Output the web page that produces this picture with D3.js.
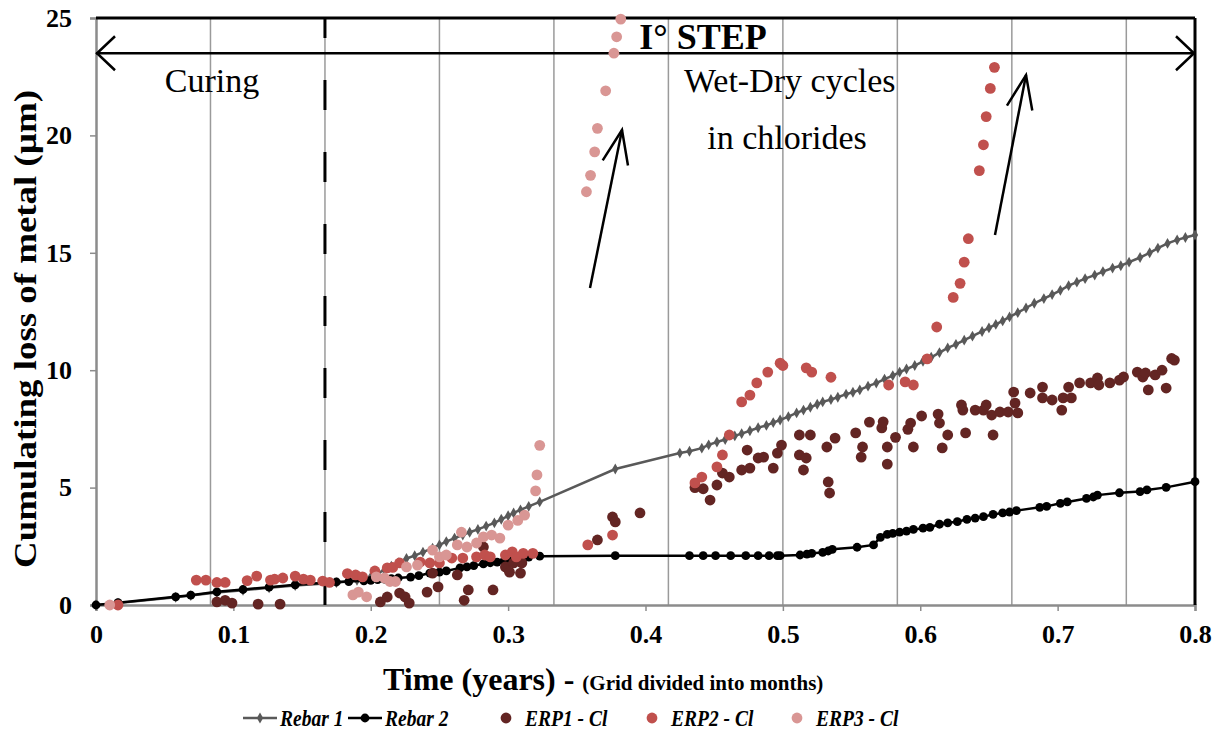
<!DOCTYPE html>
<html><head><meta charset="utf-8">
<script src="https://cdn.jsdelivr.net/npm/d3@7"></script>
<style>body{margin:0;background:#fff}svg{display:block}</style>
</head><body>
<svg id="c" width="1227" height="735"></svg>
<script>
// ---------- DATA ----------
const xTicks = [0,0.1,0.2,0.3,0.4,0.5,0.6,0.7,0.8];
const yTicks = [0,5,10,15,20,25];
const monthGrid = [1/12,2/12,3/12,4/12,5/12,6/12,7/12,8/12,9/12];
const curingEnd = 2/12;
const seriesNames = ["Rebar 1","Rebar 2","ERP1 - Cl","ERP2 - Cl","ERP3 - Cl"];
const seriesColors = ["#595959","#000000","#632523","#c0504d","#d99694"];

const rebar1 = [[0,0],[0.016,0.08],[0.058,0.33],[0.069,0.4],[0.088,0.53],[0.107,0.63],[0.126,0.73],[0.145,0.83],[0.175,0.95],[0.19,1.05],[0.2,1.2],[0.205,1.35],[0.21,1.5],[0.215,1.65],[0.22,1.8],[0.226,1.98],[0.232,2.1],[0.238,2.25],[0.245,2.42],[0.25,2.56],[0.255,2.7],[0.261,2.85],[0.267,2.98],[0.272,3.1],[0.278,3.22],[0.284,3.36],[0.29,3.5],[0.295,3.65],[0.3,3.8],[0.304,3.92],[0.309,4.05],[0.315,4.2],[0.323,4.39],[0.378,5.79],[0.425,6.47],[0.432,6.55],[0.441,6.68],[0.446,6.82],[0.452,6.94],[0.458,7.05],[0.465,7.2],[0.47,7.3],[0.476,7.42],[0.482,7.55],[0.488,7.65],[0.493,7.77],[0.498,7.88],[0.504,8.02],[0.51,8.18],[0.515,8.3],[0.52,8.42],[0.525,8.55],[0.529,8.65],[0.535,8.75],[0.54,8.85],[0.546,8.98],[0.551,9.06],[0.556,9.16],[0.562,9.32],[0.568,9.45],[0.574,9.62],[0.58,9.77],[0.585,9.92],[0.59,10.05],[0.596,10.2],[0.602,10.38],[0.608,10.55],[0.614,10.75],[0.62,10.95],[0.626,11.1],[0.632,11.28],[0.638,11.45],[0.645,11.65],[0.65,11.8],[0.655,11.95],[0.66,12.1],[0.665,12.27],[0.671,12.45],[0.677,12.65],[0.683,12.85],[0.69,13.05],[0.696,13.22],[0.702,13.4],[0.708,13.6],[0.714,13.75],[0.72,13.9],[0.727,14.05],[0.733,14.2],[0.74,14.35],[0.746,14.45],[0.752,14.6],[0.76,14.8],[0.767,15.0],[0.773,15.2],[0.78,15.4],[0.787,15.55],[0.793,15.65],[0.8,15.76]];

const rebar2 = [[0,0],[0.016,0.1],[0.058,0.35],[0.069,0.42],[0.088,0.56],[0.107,0.66],[0.126,0.76],[0.145,0.86],[0.175,0.98],[0.184,1.0],[0.195,1.03],[0.2,1.05],[0.205,1.08],[0.21,1.1],[0.215,1.12],[0.22,1.15],[0.229,1.19],[0.235,1.25],[0.243,1.36],[0.25,1.4],[0.255,1.45],[0.265,1.58],[0.27,1.62],[0.275,1.68],[0.282,1.75],[0.287,1.8],[0.292,1.83],[0.297,1.88],[0.302,1.95],[0.308,2.0],[0.315,2.04],[0.323,2.08],[0.378,2.1],[0.432,2.1],[0.442,2.1],[0.451,2.1],[0.462,2.1],[0.473,2.1],[0.482,2.1],[0.49,2.1],[0.496,2.1],[0.498,2.1],[0.5125,2.13],[0.5175,2.17],[0.521,2.2],[0.529,2.24],[0.533,2.3],[0.536,2.37],[0.554,2.46],[0.566,2.56],[0.571,2.88],[0.576,3.01],[0.58,3.05],[0.585,3.1],[0.59,3.15],[0.595,3.22],[0.602,3.27],[0.607,3.31],[0.614,3.44],[0.62,3.5],[0.627,3.55],[0.634,3.65],[0.64,3.7],[0.646,3.76],[0.653,3.86],[0.66,3.92],[0.665,3.96],[0.67,4.02],[0.687,4.16],[0.692,4.2],[0.702,4.33],[0.707,4.39],[0.721,4.54],[0.726,4.6],[0.729,4.68],[0.745,4.78],[0.76,4.83],[0.765,4.9],[0.779,5.01],[0.8,5.25]];

const erp1 = [[0.088,0.13],[0.094,0.2],[0.099,0.08],[0.118,0.04],[0.134,0.04],[0.207,0.13],[0.212,0.34],[0.221,0.51],[0.225,0.34],[0.228,0.08],[0.241,0.55],[0.245,1.36],[0.249,0.77],[0.263,1.28],[0.268,0.2],[0.271,0.64],[0.282,2.47],[0.289,0.64],[0.298,1.62],[0.301,1.4],[0.304,1.79],[0.309,1.36],[0.31,1.79],[0.365,2.77],[0.376,3.75],[0.378,3.54],[0.396,3.92],[0.436,5.0],[0.442,4.95],[0.447,4.47],[0.452,5.11],[0.456,5.62],[0.461,5.45],[0.47,5.75],[0.474,6.6],[0.476,5.83],[0.482,6.26],[0.486,6.3],[0.493,5.83],[0.496,6.47],[0.499,6.81],[0.512,7.24],[0.512,6.39],[0.515,5.75],[0.52,7.24],[0.517,6.26],[0.532,6.73],[0.533,5.24],[0.534,4.77],[0.538,7.11],[0.553,7.33],[0.558,6.73],[0.557,6.3],[0.563,7.79],[0.572,7.54],[0.573,7.8],[0.576,6.73],[0.576,6.0],[0.582,7.14],[0.591,7.48],[0.593,7.75],[0.595,6.73],[0.601,8.05],[0.613,8.13],[0.614,7.75],[0.616,6.69],[0.62,7.24],[0.63,8.52],[0.631,8.3],[0.633,7.33],[0.64,8.3],[0.646,8.3],[0.648,8.52],[0.652,8.09],[0.653,7.24],[0.658,8.22],[0.664,8.22],[0.668,9.07],[0.669,8.6],[0.671,8.18],[0.68,9.03],[0.689,9.28],[0.689,8.82],[0.696,8.73],[0.703,8.3],[0.704,8.82],[0.708,9.28],[0.71,8.82],[0.716,9.46],[0.724,9.46],[0.729,9.67],[0.73,9.37],[0.738,9.46],[0.745,9.58],[0.748,9.71],[0.758,9.92],[0.762,9.71],[0.764,9.88],[0.766,9.16],[0.771,9.8],[0.776,10.0],[0.779,9.24],[0.783,10.5],[0.785,10.43]];

const erp2 = [[0.016,0],[0.073,1.06],[0.08,1.06],[0.088,0.96],[0.094,0.96],[0.11,1.04],[0.117,1.23],[0.127,1.06],[0.13,1.1],[0.136,1.15],[0.145,1.23],[0.151,1.1],[0.156,1.06],[0.165,1.02],[0.17,0.96],[0.183,1.34],[0.189,1.28],[0.194,1.2],[0.203,1.45],[0.212,1.58],[0.216,1.6],[0.221,1.79],[0.236,1.83],[0.243,1.79],[0.25,1.79],[0.259,2.0],[0.267,2.0],[0.277,2.05],[0.283,2.13],[0.287,2.05],[0.298,2.13],[0.303,2.26],[0.306,2.05],[0.311,2.2],[0.318,2.2],[0.358,2.56],[0.376,2.98],[0.436,5.2],[0.441,5.45],[0.452,5.88],[0.456,6.39],[0.461,7.24],[0.47,8.65],[0.476,8.94],[0.481,9.46],[0.489,9.92],[0.498,10.3],[0.5,10.2],[0.517,10.1],[0.521,9.92],[0.535,9.7],[0.577,9.37],[0.589,9.5],[0.595,9.37],[0.605,10.48],[0.612,11.84],[0.624,13.1],[0.629,13.7],[0.632,14.6],[0.635,15.6],[0.643,18.5],[0.646,19.6],[0.648,20.8],[0.651,22.0],[0.654,22.9]];

const erp3 = [[0.01,0],[0.187,0.43],[0.191,0.55],[0.197,0.35],[0.204,1.2],[0.21,1.15],[0.214,1.0],[0.218,1.0],[0.226,1.62],[0.234,1.7],[0.245,2.34],[0.25,2.05],[0.255,2.13],[0.263,2.56],[0.266,3.1],[0.27,2.47],[0.277,2.64],[0.282,2.9],[0.288,2.98],[0.294,2.85],[0.3,3.4],[0.307,3.6],[0.312,3.83],[0.32,4.86],[0.321,5.54],[0.323,6.8],[0.357,17.6],[0.36,18.3],[0.363,19.3],[0.365,20.3],[0.371,21.9],[0.377,23.5],[0.379,24.2],[0.382,24.95]];

// annotations (data coordinates)
const stepArrowY = 23.5;
const trendArrows = [[[0.3596,13.5],[0.3829,20.23]],[[0.6544,15.76],[0.677,22.57]]];
const labels = [
  {t:"Curing", x:0.0845, y:21.85},
  {t:"Wet-Dry cycles", x:0.505, y:21.85},
  {t:"in chlorides", x:0.503, y:19.4}
];

// ---------- DRAW ----------
const svg = d3.select("#c");
const FONT = "'Liberation Serif','Times New Roman',serif";
const x = d3.scaleLinear().domain([0,0.8]).range([96,1195]);
const y = d3.scaleLinear().domain([0,25]).range([605,18]);

// month grid
svg.append("g").selectAll("line").data(monthGrid).join("line")
  .attr("x1",d=>x(d)).attr("x2",d=>x(d)).attr("y1",y(0)).attr("y2",y(25))
  .attr("stroke","#9a9a9a").attr("stroke-width",1.5);

// axes
const yAxis = svg.append("g").attr("transform",`translate(${x(0)},0)`)
  .call(d3.axisLeft(y).tickValues(yTicks).tickSize(6).tickPadding(18).tickFormat(d3.format("d")));
const xAxis = svg.append("g").attr("transform",`translate(0,${y(0)})`)
  .call(d3.axisBottom(x).tickValues(xTicks).tickSize(6).tickPadding(14)
     .tickFormat(d=> d===0 ? "0" : d3.format(".1f")(d)));
[yAxis,xAxis].forEach(a=>{
  a.select(".domain").attr("stroke","#8c8c8c").attr("stroke-width",2.5);
  a.selectAll(".tick line").attr("stroke","#8c8c8c").attr("stroke-width",1.5);
  a.selectAll("text").attr("font-family",FONT).attr("font-weight","bold").attr("font-size",26).attr("fill","#000");
});

// top and right borders
svg.append("line").attr("x1",x(0)).attr("x2",x(0.8)).attr("y1",y(25)).attr("y2",y(25))
  .attr("stroke","#000").attr("stroke-width",3);
svg.append("line").attr("x1",x(0.8)).attr("x2",x(0.8)).attr("y1",y(25)).attr("y2",y(0))
  .attr("stroke","#000").attr("stroke-width",3);

// curing dashed line
svg.append("line").attr("x1",x(curingEnd)).attr("x2",x(curingEnd)).attr("y1",y(25)).attr("y2",y(0))
  .attr("stroke","#000").attr("stroke-width",3).attr("stroke-dasharray","30 42").attr("stroke-dashoffset",10);

// step double arrow
const sy = y(stepArrowY);
svg.append("line").attr("x1",x(0)).attr("x2",x(0.8)).attr("y1",sy).attr("y2",sy)
  .attr("stroke","#000").attr("stroke-width",2.5);
const chev = (px,py,dir)=>`M${px+dir*18},${py-17} L${px},${py} L${px+dir*18},${py+17}`;
svg.append("path").attr("d",chev(x(0)+1,sy,1)).attr("fill","none").attr("stroke","#000").attr("stroke-width",2.5);
svg.append("path").attr("d",chev(x(0.8)-1,sy,-1)).attr("fill","none").attr("stroke","#000").attr("stroke-width",2.5);
svg.append("text").attr("x",703).attr("y",49).attr("text-anchor","middle")
  .attr("font-family",FONT).attr("font-weight","bold").attr("font-size",36).text("I° STEP");

// text labels
svg.append("g").selectAll("text").data(labels).join("text")
  .attr("x",d=>x(d.x)).attr("y",d=>y(d.y)).attr("text-anchor","middle")
  .attr("font-family",FONT).attr("font-size",34).text(d=>d.t);

// trend arrows
trendArrows.forEach(([a,b])=>{
  const x1=x(a[0]),y1=y(a[1]),x2=x(b[0]),y2=y(b[1]);
  const ang=Math.atan2(y1-y2,x1-x2), L=36, s=21*Math.PI/180;
  svg.append("line").attr("x1",x1).attr("y1",y1).attr("x2",x2).attr("y2",y2)
    .attr("stroke","#000").attr("stroke-width",2.5);
  svg.append("path").attr("d",`M${x2+L*Math.cos(ang+s)},${y2+L*Math.sin(ang+s)} L${x2},${y2} L${x2+L*Math.cos(ang-s)},${y2+L*Math.sin(ang-s)}`)
    .attr("fill","none").attr("stroke","#000").attr("stroke-width",2.5);
});

// series
const line = d3.line().x(d=>x(d[0])).y(d=>y(d[1]));
svg.append("path").datum(rebar1).attr("d",line).attr("fill","none").attr("stroke",seriesColors[0]).attr("stroke-width",2.5);
svg.append("g").selectAll("path").data(rebar1).join("path")
  .attr("transform",d=>`translate(${x(d[0])},${y(d[1])})`)
  .attr("d",d3.symbol(d3.symbolDiamond,34)).attr("fill",seriesColors[0]);
svg.append("path").datum(rebar2).attr("d",line).attr("fill","none").attr("stroke",seriesColors[1]).attr("stroke-width",2.5);
svg.append("g").selectAll("circle").data(rebar2).join("circle")
  .attr("cx",d=>x(d[0])).attr("cy",d=>y(d[1])).attr("r",4.4).attr("fill",seriesColors[1]);
[erp1,erp2,erp3].forEach((s,i)=>{
  svg.append("g").selectAll("circle").data(s).join("circle")
    .attr("cx",d=>x(d[0])).attr("cy",d=>y(d[1])).attr("r",5.4).attr("fill",seriesColors[i+2]);
});

// axis titles
svg.append("text").attr("transform","translate(36,329) rotate(-90)").attr("text-anchor","middle")
  .attr("font-family",FONT).attr("font-weight","bold").attr("font-size",32)
  .attr("textLength",478).attr("lengthAdjust","spacingAndGlyphs")
  .text("Cumulating loss of metal (µm)");
const xt = svg.append("text").attr("x",383).attr("y",690).attr("font-family",FONT).attr("font-weight","bold");
xt.append("tspan").attr("font-size",32).text("Time (years) - ");
xt.append("tspan").attr("font-size",21).text("(Grid divided into months)");

// legend
const lg = svg.append("g").attr("font-family",FONT).attr("font-weight","bold").attr("font-style","italic");
const LY = 718;
const legendPos = [243,348,506,652,797];
seriesNames.forEach((n,i)=>{
  const lx = legendPos[i];
  let tx;
  if(i<2){
    lg.append("line").attr("x1",lx).attr("x2",lx+34).attr("y1",LY).attr("y2",LY).attr("stroke",seriesColors[i]).attr("stroke-width",2.5);
    if(i===0) lg.append("path").attr("transform",`translate(${lx+17},${LY})`).attr("d",d3.symbol(d3.symbolDiamond,34)).attr("fill",seriesColors[i]);
    else lg.append("circle").attr("cx",lx+17).attr("cy",LY).attr("r",4.4).attr("fill",seriesColors[i]);
    tx = lx+37;
  } else {
    lg.append("circle").attr("cx",lx).attr("cy",LY).attr("r",5.4).attr("fill",seriesColors[i]);
    tx = lx+19;
  }
  const t = lg.append("text").attr("x",tx).attr("y",LY+8).attr("font-size",19.5).text(n);
  const w = t.node().getComputedTextLength();
  t.attr("font-size",23).attr("textLength",w).attr("lengthAdjust","spacingAndGlyphs");
});
</script>
</body></html>
